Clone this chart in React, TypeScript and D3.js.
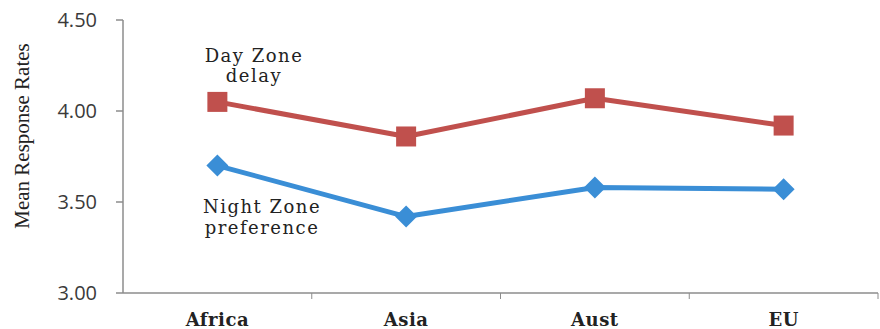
import React from "react";
import * as d3 from "d3";

const regions = ["Africa", "Asia", "Aust", "EU"];
const dayZoneDelay = [4.05, 3.86, 4.07, 3.92];
const nightZonePreference = [3.70, 3.42, 3.58, 3.57];
const yTicks = [3.0, 3.5, 4.0, 4.5];

const W = 880;
const H = 329;
const margin = { left: 123, right: 2, top: 20, bottom: 36 };

const RED = "#C0504D";
const BLUE = "#3A8ED6";
const SERIF = "'DejaVu Serif', serif";

export default function App() {
  const x = d3
    .scaleBand<string>()
    .domain(regions)
    .range([margin.left, W - margin.right])
    .paddingInner(0)
    .paddingOuter(0);
  const y = d3.scaleLinear().domain([3.0, 4.5]).range([H - margin.bottom, margin.top]);
  const cx = (r: string) => (x(r) as number) + x.bandwidth() / 2;

  const line = d3
    .line<number>()
    .x((_, i) => cx(regions[i]))
    .y((d) => y(d));

  // square-proportioned diamond marker
  const diamond = "M0,-11L11,0L0,11L-11,0Z";
  const axisColor = "#8c8c8c";
  const y0 = y(3.0);

  return (
    <svg
      width={W}
      height={H}
      style={{ position: "absolute", left: 0, top: 0, background: "#fff" }}
    >
      {/* value axis */}
      <line x1={margin.left} x2={margin.left} y1={y(4.5)} y2={y0} stroke={axisColor} strokeWidth={1.5} />
      {yTicks.map((t) => (
        <g key={t}>
          <line x1={margin.left - 7} x2={margin.left} y1={y(t)} y2={y(t)} stroke={axisColor} strokeWidth={1.5} />
          <text
            x={97}
            y={y(t)}
            dy="0.36em"
            textAnchor="end"
            fontFamily="'Open Sans', 'DejaVu Sans', sans-serif"
            fontSize={20}
            fill="#3a3a3a"
          >
            {t.toFixed(2)}
          </text>
        </g>
      ))}

      {/* category axis */}
      <line x1={margin.left} x2={W - margin.right} y1={y0} y2={y0} stroke={axisColor} strokeWidth={1.5} />
      {regions.map((r) => (
        <g key={r}>
          <line
            x1={(x(r) as number) + x.bandwidth()}
            x2={(x(r) as number) + x.bandwidth()}
            y1={y0}
            y2={y0 + 6}
            stroke={axisColor}
            strokeWidth={1}
          />
          <text
            x={cx(r)}
            y={326}
            textAnchor="middle"
            fontFamily={SERIF}
            fontWeight="bold"
            fontSize={18}
            letterSpacing={0.5}
            fill="#222"
          >
            {r}
          </text>
        </g>
      ))}

      {/* axis title */}
      <text
        transform={`translate(29,136) rotate(-90)`}
        textAnchor="middle"
        fontFamily="'Liberation Serif', serif"
        fontSize={21}
        fill="#222"
      >
        Mean Response Rates
      </text>

      {/* series */}
      <path d={line(dayZoneDelay) || ""} fill="none" stroke={RED} strokeWidth={5} strokeLinejoin="round" />
      {dayZoneDelay.map((v, i) => (
        <rect key={i} x={cx(regions[i]) - 10} y={y(v) - 10} width={20} height={20} fill={RED} />
      ))}
      <path d={line(nightZonePreference) || ""} fill="none" stroke={BLUE} strokeWidth={5} strokeLinejoin="round" />
      {nightZonePreference.map((v, i) => (
        <path key={i} d={diamond} transform={`translate(${cx(regions[i])},${y(v)})`} fill={BLUE} />
      ))}

      {/* series labels */}
      <g fontFamily={SERIF} fontSize={18} letterSpacing={1.5} fill="#222" textAnchor="middle">
        <text x={254} y={62}>Day Zone</text>
        <text x={254} y={82}>delay</text>
        <text x={262} y={213}>Night Zone</text>
        <text x={262} y={234}>preference</text>
      </g>
    </svg>
  );
}
